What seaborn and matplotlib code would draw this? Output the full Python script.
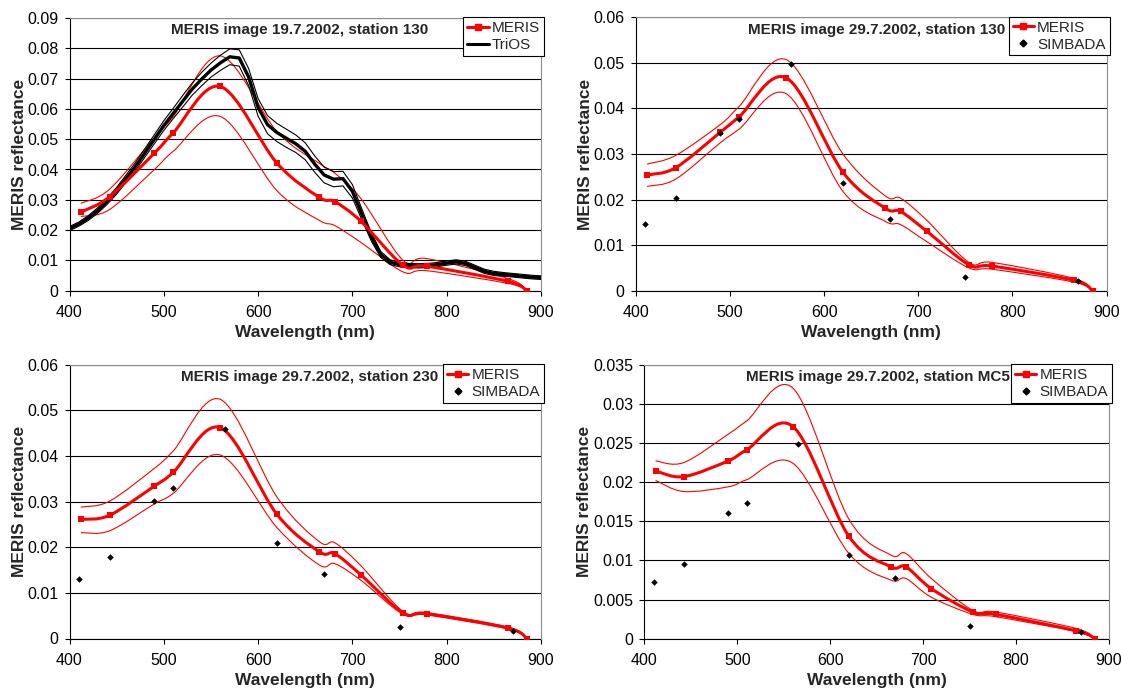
import numpy as np
import matplotlib
matplotlib.use('Agg')
import matplotlib.pyplot as plt
import seaborn as sns
from matplotlib.path import Path
from matplotlib.patches import PathPatch
from matplotlib.lines import Line2D
from matplotlib.ticker import MultipleLocator, FuncFormatter

sns.set_style('white')
plt.rcParams['font.family'] = ['Liberation Sans', 'DejaVu Sans']

# MERIS band centres and SIMBADA bands (nm)
meris_wl = [412.5, 442.5, 490, 510, 560, 620, 665, 681.25, 708.75, 753.75, 778.75, 865, 885]
simbada_wl = [410, 443, 490, 510, 565, 620, 670, 750, 870]

# panel 1: MERIS image 19.7.2002, station 130
p1_meris = [0.0260, 0.0310, 0.0454, 0.0521, 0.0674, 0.0421, 0.0308, 0.0294, 0.0230, 0.0084, 0.0081, 0.0031, 0.0]
p1_upper = [0.0289, 0.0335, 0.0505, 0.0575, 0.0775, 0.0525, 0.0420, 0.0388, 0.0305, 0.0100, 0.0106, 0.0040, 0.0]
p1_lower = [0.0245, 0.0268, 0.0400, 0.0460, 0.0575, 0.0330, 0.0232, 0.0215, 0.0160, 0.0062, 0.0066, 0.0024, 0.0]

trios_wl = list(range(400, 901, 10))
trios_mean = [0.0205, 0.0220, 0.0240, 0.0265, 0.0295, 0.0330, 0.0370, 0.0410, 0.0455, 0.0500,
              0.0545, 0.0585, 0.0625, 0.0665, 0.0698, 0.0728, 0.0752, 0.0772, 0.0768, 0.0705,
              0.0605, 0.0548, 0.0522, 0.0503, 0.0485, 0.0460, 0.0418, 0.0382, 0.0368, 0.0370,
              0.0328, 0.0252, 0.0178, 0.0120, 0.0094, 0.0086, 0.0083, 0.0082, 0.0083, 0.0086,
              0.0091, 0.0095, 0.0090, 0.0077, 0.0064, 0.0057, 0.0054, 0.0051, 0.0048, 0.0045, 0.0043]
trios_upper = [0.0212, 0.0227, 0.0248, 0.0274, 0.0305, 0.0341, 0.0382, 0.0423, 0.0469, 0.0515,
               0.0561, 0.0602, 0.0644, 0.0685, 0.0720, 0.0751, 0.0777, 0.0798, 0.0795, 0.0733,
               0.0634, 0.0578, 0.0552, 0.0533, 0.0514, 0.0488, 0.0445, 0.0408, 0.0393, 0.0394,
               0.0350, 0.0270, 0.0192, 0.0130, 0.0102, 0.0093, 0.0090, 0.0089, 0.0090, 0.0093,
               0.0098, 0.0102, 0.0097, 0.0084, 0.0071, 0.0064, 0.0060, 0.0057, 0.0054, 0.0051, 0.0049]
trios_lower = [0.0198, 0.0213, 0.0232, 0.0256, 0.0285, 0.0319, 0.0358, 0.0397, 0.0441, 0.0485,
               0.0529, 0.0568, 0.0606, 0.0645, 0.0676, 0.0705, 0.0727, 0.0746, 0.0741, 0.0677,
               0.0576, 0.0518, 0.0492, 0.0473, 0.0456, 0.0432, 0.0391, 0.0356, 0.0343, 0.0346,
               0.0306, 0.0234, 0.0164, 0.0110, 0.0086, 0.0079, 0.0076, 0.0075, 0.0076, 0.0079,
               0.0084, 0.0088, 0.0083, 0.0070, 0.0057, 0.0050, 0.0048, 0.0045, 0.0042, 0.0039, 0.0037]

# panel 2: MERIS image 29.7.2002, station 130
p2_meris = [0.0254, 0.0270, 0.0348, 0.0382, 0.0467, 0.0260, 0.0181, 0.0174, 0.0131, 0.0057, 0.0054, 0.0023, 0.0]
p2_upper = [0.0278, 0.0297, 0.0365, 0.0405, 0.0507, 0.0300, 0.0208, 0.0203, 0.0155, 0.0062, 0.0062, 0.0027, 0.0]
p2_lower = [0.0229, 0.0245, 0.0325, 0.0355, 0.0432, 0.0218, 0.0152, 0.0145, 0.0108, 0.0050, 0.0047, 0.0019, 0.0]
p2_simbada = [0.0146, 0.0203, 0.0347, 0.0377, 0.0497, 0.0236, 0.0158, 0.0031, 0.0021]

# panel 3: MERIS image 29.7.2002, station 230
p3_meris = [0.0261, 0.0270, 0.0334, 0.0364, 0.0462, 0.0272, 0.0190, 0.0186, 0.0140, 0.0056, 0.0054, 0.0023, 0.0]
p3_upper = [0.0288, 0.0301, 0.0373, 0.0411, 0.0524, 0.0310, 0.0212, 0.0210, 0.0160, 0.0059, 0.0057, 0.0025, 0.0]
p3_lower = [0.0232, 0.0236, 0.0295, 0.0318, 0.0402, 0.0243, 0.0161, 0.0164, 0.0128, 0.0053, 0.0052, 0.0021, 0.0]
p3_simbada = [0.0131, 0.0179, 0.0301, 0.0330, 0.0459, 0.0210, 0.0141, 0.0026, 0.0016]

# panel 4: MERIS image 29.7.2002, station MC5
p4_meris = [0.0214, 0.0207, 0.0227, 0.0241, 0.0271, 0.0131, 0.0092, 0.0092, 0.0064, 0.0034, 0.0031, 0.0010, 0.0]
p4_upper = [0.0227, 0.0225, 0.0261, 0.0278, 0.0320, 0.0153, 0.0107, 0.0109, 0.0077, 0.0036, 0.0034, 0.0013, 0.0]
p4_lower = [0.0202, 0.0188, 0.0194, 0.0203, 0.0224, 0.0109, 0.0075, 0.0077, 0.0053, 0.0031, 0.0028, 0.0009, 0.0]
p4_simbada = [0.0072, 0.0095, 0.0161, 0.0173, 0.0249, 0.0107, 0.0078, 0.0016, 0.0009]

titles = ['MERIS image 19.7.2002, station 130', 'MERIS image 29.7.2002, station 130',
          'MERIS image 29.7.2002, station 230', 'MERIS image 29.7.2002, station MC5']

RED = '#ff0000'


def smooth_line(ax, x, y, **kw):
    # Excel-style "smoothed line": bezier segments through the data points
    pts = np.column_stack([np.asarray(x, float), np.asarray(y, float)])
    ext = np.vstack([pts[0], pts, pts[-1]])
    verts, codes = [pts[0]], [Path.MOVETO]
    for i in range(len(pts) - 1):
        p0, p1, p2, p3 = ext[i], ext[i + 1], ext[i + 2], ext[i + 3]
        verts += [p1 + (p2 - p0) / 6, p2 - (p3 - p1) / 6, p2]
        codes += [Path.CURVE4] * 3
    ax.add_patch(PathPatch(Path(verts, codes), fill=False, capstyle='round', joinstyle='round', **kw))


fig = plt.figure(figsize=(11.21, 6.91), dpi=100)

# [left, bottom, width, height] in figure pixels
boxes = [(69.5, 290.7, 471.5, 272.7), (635.7, 290.7, 471.0, 273.4),
         (69.5, 638.5, 471.5, 273.8), (644.3, 638.7, 464.7, 274.0)]
ymax = [0.09, 0.06, 0.06, 0.035]
ystep = [0.01, 0.01, 0.01, 0.005]
title_x = [0.488, 0.511, 0.509, 0.503]
ylab_x = [-0.106, -0.106, -0.106, -0.128]

meris_sets = [(p1_meris, p1_upper, p1_lower), (p2_meris, p2_upper, p2_lower),
              (p3_meris, p3_upper, p3_lower), (p4_meris, p4_upper, p4_lower)]
simbada_sets = [None, p2_simbada, p3_simbada, p4_simbada]

for k in range(4):
    l, b, w, h = boxes[k]
    ax = fig.add_axes([l / 1121, (691 - b) / 691, w / 1121, h / 691])
    mean, up, lo = meris_sets[k]

    smooth_line(ax, meris_wl, up, edgecolor=RED, linewidth=0.8, zorder=3)
    smooth_line(ax, meris_wl, lo, edgecolor=RED, linewidth=0.8, zorder=3)

    if k == 0:
        sns.lineplot(x=trios_wl, y=trios_upper, color='black', linewidth=0.8, ax=ax, zorder=4)
        sns.lineplot(x=trios_wl, y=trios_lower, color='black', linewidth=0.8, ax=ax, zorder=4)
        sns.lineplot(x=trios_wl, y=trios_mean, color='black', linewidth=2.4, ax=ax, zorder=4)

    smooth_line(ax, meris_wl, mean, edgecolor=RED, linewidth=2.2, zorder=5)
    sns.scatterplot(x=meris_wl, y=mean, marker='s', s=20, color=RED, edgecolor=RED,
                    linewidth=0, ax=ax, zorder=6)

    if simbada_sets[k] is not None:
        sns.scatterplot(x=simbada_wl, y=simbada_sets[k], marker='D', s=11, color='black',
                        edgecolor='black', linewidth=0, ax=ax, zorder=7)

    ax.set_xlim(400, 900)
    ax.set_ylim(0, ymax[k])
    ax.xaxis.set_major_locator(MultipleLocator(100))
    ax.yaxis.set_major_locator(MultipleLocator(ystep[k]))
    ax.yaxis.set_major_formatter(FuncFormatter(lambda v, p: f'{round(v, 4):g}'))
    ax.grid(axis='y', color='black', linewidth=0.8)
    ax.set_axisbelow(True)

    for side in ['left', 'bottom']:
        ax.spines[side].set_color('black')
        ax.spines[side].set_linewidth(0.8)
    for side in ['top', 'right']:
        ax.spines[side].set_color('#8c8c8c')
        ax.spines[side].set_linewidth(0.8)
        ax.spines[side].set_zorder(8)

    ax.tick_params(axis='both', direction='out', length=3.6, width=0.8, color='black',
                   labelsize=11.5, labelcolor='black')
    ax.tick_params(axis='x', pad=6.5, bottom=True)
    ax.tick_params(axis='y', pad=4.5, left=True)

    ax.set_xlabel('Wavelength (nm)', fontsize=12.5, fontweight='bold', va='center')
    ax.xaxis.set_label_coords(0.5, -42 / h)
    ax.set_ylabel('MERIS reflectance', fontsize=12.5, fontweight='bold', va='center')
    ax.yaxis.set_label_coords(ylab_x[k], 0.5)

    ax.text(title_x[k], 0.955, titles[k], transform=ax.transAxes, ha='center', va='center',
            fontsize=11, fontweight='bold', zorder=9)

    handles = [Line2D([], [], color=RED, linewidth=2.2, marker='s', markersize=4.5)]
    if k == 0:
        handles.append(Line2D([], [], color='black', linewidth=2.2))
        labels = ['MERIS', 'TriOS']
    else:
        handles.append(Line2D([], [], color='black', linestyle='none', marker='D', markersize=3.5))
        labels = ['MERIS', 'SIMBADA']
    leg = ax.legend(handles, labels, loc='upper right', bbox_to_anchor=(1.006, 1.002),
                    fontsize=11, frameon=True, fancybox=False, framealpha=1,
                    borderpad=0.25, labelspacing=0.2, handletextpad=0.2, handlelength=1.4,
                    borderaxespad=0)
    leg.get_frame().set_edgecolor('black')
    leg.get_frame().set_linewidth(0.8)
    leg.set_zorder(10)

fig.savefig('out.png', dpi=100)
